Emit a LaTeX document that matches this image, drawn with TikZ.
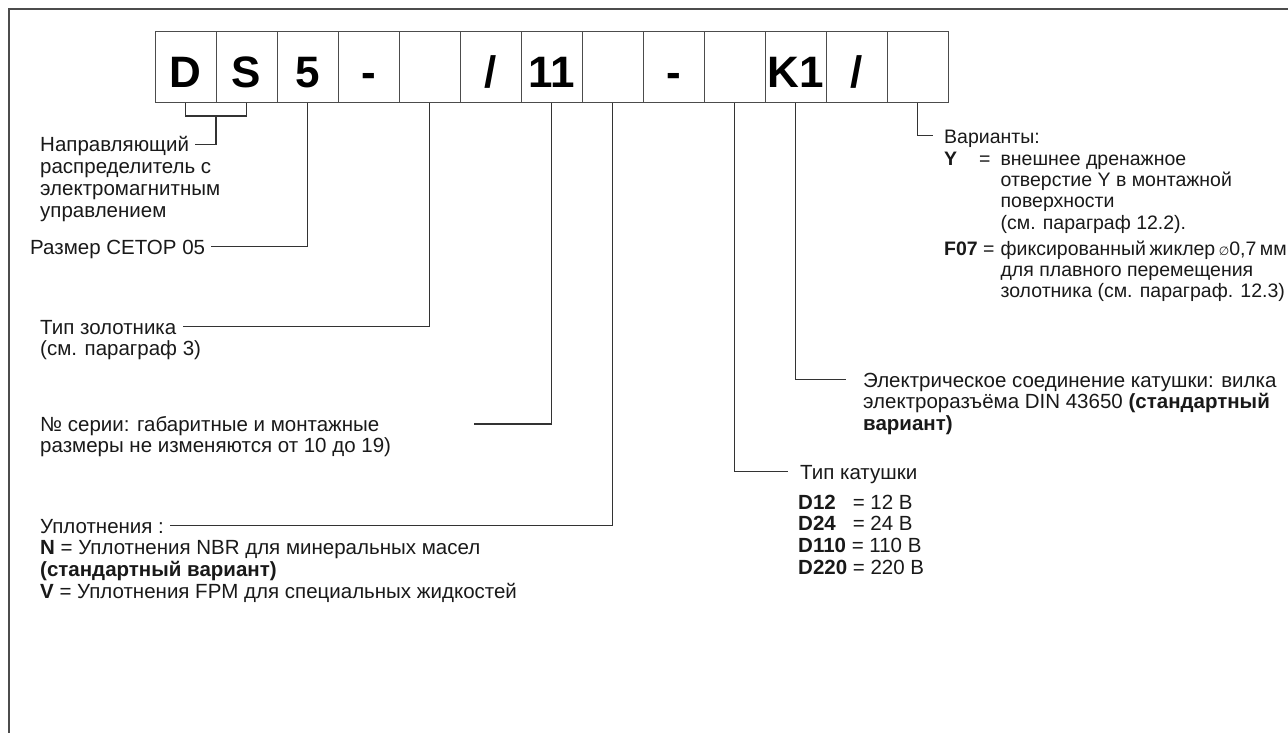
\documentclass[tikz,border=0pt]{standalone}
\usepackage{fontspec}
\setmainfont{Liberation Sans}
\newfontfamily\symfont{DejaVu Sans}
\usetikzlibrary{positioning}

\begin{document}
\begin{tikzpicture}[x=1pt,y=-1pt,
    every node/.style={font=\fontsize{20.5}{21.7}\selectfont,text=black!90},
    box/.style={draw=black!70,line width=1pt,minimum width=61pt,minimum height=71pt,
                inner sep=0pt,outer sep=0pt,font=\fontsize{44}{44}\selectfont\bfseries,
                text height=40pt,text depth=0pt},
    lbl/.style={anchor=base west,inner xsep=6pt,inner ysep=0pt,text height=14.7pt,text depth=0pt},
    more/.style={anchor=base west,inner sep=0pt},
    wire/.style={draw=black!80,line width=1.2pt}]

    \useasboundingbox (0,0) rectangle (1288,733);
    \draw[black!70,line width=1.8pt] (9,733) -- (9,9) -- (1288,9);

    \begin{scope}[every node/.style={box}]
      \node[anchor=north west] (d) at (155,32) {D};
      \node[right=0pt of d] (s) {S};
      \node[right=0pt of s] (size) {5};
      \node[right=0pt of size] (dash1) {-};
      \node[right=0pt of dash1] (spool) {};
      \node[right=0pt of spool] (slash1) {/};
      \node[right=0pt of slash1] (series) {11};
      \node[right=0pt of series] (seal) {};
      \node[right=0pt of seal] (dash2) {-};
      \node[right=0pt of dash2] (coil) {};
      \node[right=0pt of coil] (conn) {K1};
      \node[right=0pt of conn] (slash2) {/};
      \node[right=0pt of slash2] (opt) {};
    \end{scope}

    \node[lbl] (valvetxt) at (34,152) {Направляющий};
    \node[more] (valvemore) at ([xshift=6pt,yshift=-21.7pt]valvetxt.base west)
      {\begin{tabular}[t]{@{}l@{}}распределитель с\\электромагнитным\\управлением\end{tabular}};
    \node[lbl] (sizetxt) at (24,254) {Размер CETOP 05};
    \node[lbl] (spooltxt) at (34,334) {Тип золотника};
    \node[more] (spoolmore) at ([xshift=6pt,yshift=-21.7pt]spooltxt.base west) {(см. параграф 3)};
    \node[lbl] (seriestxt) at (34,431) {№ серии: габаритные и монтажные};
    \node[more] (seriesmore) at ([xshift=6pt,yshift=-21.7pt]seriestxt.base west)
      {размеры не изменяются от 10 до 19)};
    \node[lbl] (sealtxt) at (34,533) {Уплотнения :};
    \node[more] (sealmore) at ([xshift=6pt,yshift=-21.7pt]sealtxt.base west)
      {\begin{tabular}[t]{@{}l@{}}\textbf{N} = Уплотнения NBR для минеральных масел\\
        \textbf{(стандартный вариант)}\\
        \textbf{V} = Уплотнения FPM для специальных жидкостей\end{tabular}};

    \node[lbl,inner xsep=11pt,font=\fontsize{19.5}{21.5}\selectfont] (opttxt) at (933,143) {Варианты:};
    \node[more,font=\fontsize{19.5}{21.5}\selectfont] (optmore) at ([xshift=11pt,yshift=-22pt]opttxt.base west)
      {\begin{tabular}[t]{@{}l@{\hspace{6pt}}l@{}}
        \textbf{Y}\hspace{22pt}= & внешнее дренажное\\
         & отверстие Y в монтажной\\
         & поверхности\\
         & (см. параграф 12.2).\\[4pt]
        \textbf{F07} = & фиксированный\hspace{3.5pt}жиклер\hspace{3.5pt}{\symfont\fontsize{12}{12}\selectfont ∅}0,7\hspace{3.5pt}мм\\
         & для плавного перемещения\\
         & золотника (см. параграф. 12.3)
      \end{tabular}};
    \node[lbl,inner xsep=17pt] (conntxt) at (846,387) {Электрическое соединение катушки: вилка};
    \node[more] (connmore) at ([xshift=17pt,yshift=-21.7pt]conntxt.base west)
      {\begin{tabular}[t]{@{}l@{}}электроразъёма DIN 43650 \textbf{(стандартный}\\\textbf{вариант)}\end{tabular}};
    \node[lbl,inner xsep=12pt] (coiltxt) at (788,479) {Тип катушки};
    \node[more] (coilmore) at ([xshift=10pt,yshift=-30pt]coiltxt.base west)
      {\begin{tabular}[t]{@{}l@{}}\textbf{D12}\hspace{17pt}= 12 В\\
        \textbf{D24}\hspace{17pt}= 24 В\\
        \textbf{D110} = 110 В\\
        \textbf{D220} = 220 В\end{tabular}};

    \path (d.south) -- (s.south) node[coordinate,midway,yshift=-13pt] (dsbar) {};
    \draw[wire] (d.south) |- (dsbar) -| (s.south);
    \draw[wire] (dsbar) |- (valvetxt.east);
    \draw[wire] (size.south) |- (sizetxt.east);
    \draw[wire] (spool.south) |- (spooltxt.east);
    \coordinate (seriesend) at (474,424);
    \draw[wire] (series.south) |- (seriesend);
    \draw[wire] (seal.south) |- (sealtxt.east);
    \draw[wire] (coil.south) |- (coiltxt.west);
    \draw[wire] (conn.south) |- (conntxt.west);
    \draw[wire] (opt.south) |- (opttxt.west);
\end{tikzpicture}
\end{document}
